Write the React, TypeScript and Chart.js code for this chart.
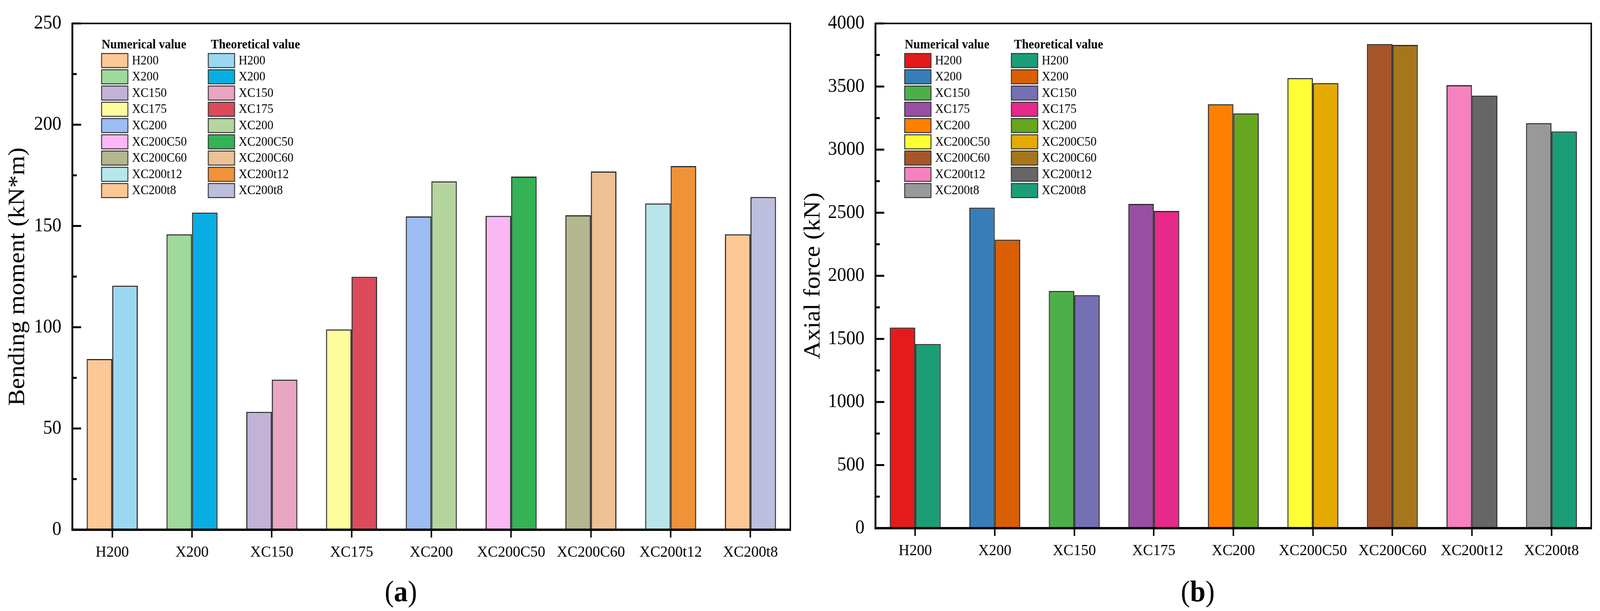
import { useEffect, useRef } from "react"
import { Chart, registerables } from "chart.js"

Chart.register(...registerables)

const FONT = "'Liberation Serif', 'Times New Roman', serif"

// design size of the figure; everything is laid out on this grid and then fitted to the viewport
const FIG_W = 4379
const FIG_H = 1564

// categories shared by both panels
const categories = ["H200", "X200", "XC150", "XC175", "XC200", "XC200C50", "XC200C60", "XC200t12", "XC200t8"]

// (a) bending moment, kN*m
const momentNumerical = [84.3, 145.9, 58.2, 98.9, 154.7, 155.0, 155.3, 161.1, 145.9]
const momentTheoretical = [120.5, 156.6, 74.1, 124.9, 172.0, 174.4, 176.9, 179.6, 164.3]
const momentNumColors = ["#FBC896", "#9FD99B", "#C3B2D8", "#FEFD9E", "#9DBCF3", "#FCB7F5", "#B3B68F", "#B6E5EA", "#FBC896"]
const momentTheoColors = ["#9AD8F2", "#08AEE3", "#EAA5C2", "#DC4A5B", "#B5D59E", "#35B156", "#EDC194", "#F09238", "#BDBEDD"]

// (b) axial force, kN
const axialNumerical = [1590, 2540, 1880, 2570, 3360, 3567, 3837, 3511, 3210]
const axialTheoretical = [1460, 2286, 1847, 2514, 3287, 3527, 3830, 3428, 3144]
const axialNumColors = ["#E41A1C", "#377EB8", "#4DAF4A", "#984EA3", "#FF7F00", "#FFFF33", "#A65628", "#F781BF", "#999999"]
const axialTheoColors = ["#1B9E77", "#D95F02", "#7570B3", "#E7298A", "#66A61E", "#E6AB02", "#A6761D", "#666666", "#1B9E77"]

// axis ranges
const momentMax = 250
const momentStep = 50
const axialMax = 4000
const axialStep = 500

// frame + inward y ticks (major and minor)
const framePlugin = {
  id: "frame",
  afterDatasetsDraw(chart: any, _args: any, opts: any) {
    const { ctx, chartArea, scales } = chart
    const { left, right, top, bottom } = chartArea
    const y = scales.y
    ctx.save()
    ctx.strokeStyle = "#000"
    ctx.lineCap = "butt"
    const minor = opts.step / 2
    for (let v = 0; v <= y.max + 1e-6; v += minor) {
      const py = y.getPixelForValue(v)
      const major = Math.round(v / minor) % 2 === 0
      ctx.lineWidth = 5
      ctx.beginPath()
      ctx.moveTo(left, py)
      ctx.lineTo(left + (major ? 24 : 12), py)
      ctx.stroke()
    }
    ctx.lineWidth = 4
    ctx.beginPath()
    ctx.moveTo(left, top)
    ctx.lineTo(right, top)
    ctx.lineTo(right, bottom)
    ctx.stroke()
    ctx.lineWidth = 5
    ctx.beginPath()
    ctx.moveTo(left, top - 2)
    ctx.lineTo(left, bottom)
    ctx.stroke()
    ctx.lineWidth = 6
    ctx.beginPath()
    ctx.moveTo(left - 2.5, bottom)
    ctx.lineTo(right + 2, bottom)
    ctx.stroke()
    ctx.restore()
  },
}

// two-column legend with headers
const twoColLegend = {
  id: "twoColLegend",
  afterDraw(chart: any, _args: any, opts: any) {
    const { ctx, chartArea } = chart
    const { left, top } = chartArea
    const cols = [
      { head: "Numerical value", colors: opts.numColors, x: left + 80, hx: left + 80 },
      { head: "Theoretical value", colors: opts.theoColors, x: left + 372, hx: left + 379 },
    ]
    ctx.save()
    ctx.textBaseline = "middle"
    ctx.textAlign = "left"
    cols.forEach((col) => {
      ctx.font = `bold 33px ${FONT}`
      ctx.fillStyle = "#000"
      ctx.fillText(col.head, col.hx, top + 55)
      opts.labels.forEach((label: string, i: number) => {
        const ry = top + 77 + i * 41.6
        ctx.fillStyle = col.colors[i]
        ctx.fillRect(col.x, ry, 72, 36)
        ctx.strokeStyle = "#333"
        ctx.lineWidth = 2.5
        ctx.strokeRect(col.x, ry, 72, 36)
        ctx.fillStyle = "#000"
        ctx.font = `33px ${FONT}`
        ctx.fillText(label, col.x + 83, ry + 19)
      })
    })
    ctx.restore()
  },
}

interface PanelProps {
  numerical: number[]
  theoretical: number[]
  numColors: string[]
  theoColors: string[]
  yMax: number
  step: number
  title: string
  yWidth: number
  xHeight: number
  padRight: number
  titlePad: number
}

const BarPanel = (p: PanelProps) => {
  const canvasRef = useRef<HTMLCanvasElement>(null)

  useEffect(() => {
    if (!canvasRef.current) return
    const chart = new Chart(canvasRef.current, {
      type: "bar",
      data: {
        labels: categories,
        datasets: [
          {
            label: "Numerical value",
            data: p.numerical,
            backgroundColor: p.numColors,
            borderColor: "#2b2b2b",
            borderWidth: 3,
            categoryPercentage: 0.64,
            barPercentage: 1,
          },
          {
            label: "Theoretical value",
            data: p.theoretical,
            backgroundColor: p.theoColors,
            borderColor: "#2b2b2b",
            borderWidth: 3,
            categoryPercentage: 0.64,
            barPercentage: 1,
          },
        ],
      },
      options: {
        animation: false,
        responsive: true,
        maintainAspectRatio: false,
        devicePixelRatio: 1,
        layout: { padding: { left: 0, right: p.padRight, top: 44, bottom: 0 } },
        scales: {
          x: {
            grid: {
              display: true,
              offset: false,
              drawOnChartArea: false,
              drawTicks: true,
              tickLength: 20,
              tickWidth: 4,
              color: "#000",
            },
            border: { display: false },
            ticks: {
              font: { family: FONT, size: 41 },
              color: "#000",
              padding: 14,
              maxRotation: 0,
              autoSkip: false,
            },
            afterFit: (sc: any) => {
              sc.height = p.xHeight
            },
          },
          y: {
            min: 0,
            max: p.yMax,
            grid: { display: false, drawTicks: false },
            border: { display: false },
            ticks: {
              stepSize: p.step,
              font: { family: FONT, size: 50 },
              color: "#000",
              padding: 30,
              callback: (v: any) => String(v),
            },
            title: {
              display: true,
              text: p.title,
              color: "#000",
              font: { family: FONT, size: 64, lineHeight: 1.2 },
              padding: { top: p.titlePad, bottom: 0 },
            },
            afterFit: (sc: any) => {
              sc.width = p.yWidth
            },
          },
        },
        plugins: {
          legend: { display: false },
          tooltip: { enabled: false },
          frame: { step: p.step },
          twoColLegend: { labels: categories, numColors: p.numColors, theoColors: p.theoColors },
        } as any,
      },
      plugins: [framePlugin, twoColLegend],
    })
    return () => chart.destroy()
  }, [])

  return <canvas ref={canvasRef}></canvas>
}

const Caption = ({ letter, cx }: { letter: string; cx: number }) => (
  <div
    style={{
      position: "absolute",
      left: cx - 200,
      top: 1475,
      width: 400,
      textAlign: "center",
      fontFamily: FONT,
      fontSize: 76,
      lineHeight: "76px",
      color: "#000",
    }}
  >
    (<b>{letter}</b>)
  </div>
)

export default function App() {
  // the viewport can be narrower than the figure, so the design grid is fitted to it
  const sx = window.innerWidth / FIG_W
  const sy = window.innerHeight / FIG_H
  return (
    <div style={{ position: "fixed", left: 0, top: 0, width: window.innerWidth, height: window.innerHeight, overflow: "hidden", background: "#fff" }}>
      <div
        style={{
          position: "absolute",
          left: 0,
          top: 0,
          width: FIG_W,
          height: FIG_H,
          transform: `scale(${sx}, ${sy})`,
          transformOrigin: "0 0",
        }}
      >
        <div style={{ position: "absolute", left: 0, top: 0, width: 2180, height: FIG_H }}>
          <BarPanel
            numerical={momentNumerical}
            theoretical={momentTheoretical}
            numColors={momentNumColors}
            theoColors={momentTheoColors}
            yMax={momentMax}
            step={momentStep}
            title="Bending moment (kN*m)"
            yWidth={198}
            xHeight={208}
            padRight={17}
            titlePad={11}
          />
        </div>
        <div style={{ position: "absolute", left: 2180, top: 0, width: 2199, height: FIG_H }}>
          <BarPanel
            numerical={axialNumerical}
            theoretical={axialTheoretical}
            numColors={axialNumColors}
            theoColors={axialTheoColors}
            yMax={axialMax}
            step={axialStep}
            title="Axial force (kN)"
            yWidth={216}
            xHeight={212}
            padRight={24}
            titlePad={8}
          />
        </div>
        <Caption letter="a" cx={1097} />
        <Caption letter="b" cx={3278} />
      </div>
    </div>
  )
}
